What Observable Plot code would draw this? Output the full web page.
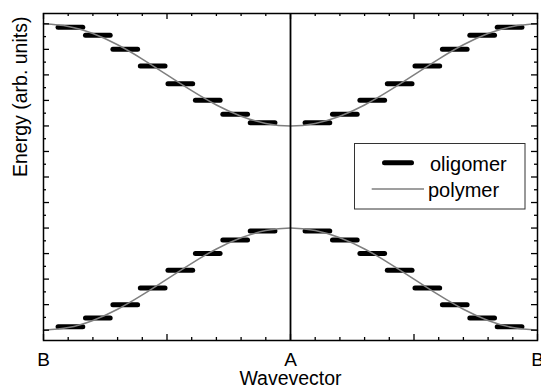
<!DOCTYPE html>
<html><head><meta charset="utf-8">
<script src="https://cdn.jsdelivr.net/npm/d3@7"></script>
<script src="https://cdn.jsdelivr.net/npm/@observablehq/plot@0.6"></script>
<style>body{margin:0;background:#fff}</style>
</head><body><div id="chart"></div>
<script>
// Oligomer levels (discrete k positions and energies)
const levelK = [-0.889,-0.778,-0.667,-0.556,-0.444,-0.333,-0.222,-0.111,0.111,0.222,0.333,0.444,0.556,0.667,0.778,0.889];
const oligomerUpper = [11.87,11.55,11.0,10.35,9.65,9.01,8.46,8.13,8.13,8.46,9.01,9.65,10.35,11.0,11.55,11.87];
const oligomerLower = [0.13,0.48,1.0,1.65,2.35,3.0,3.53,3.88,3.88,3.53,3.0,2.35,1.65,1.0,0.48,0.13];
// Polymer bands
const polymerK = [-1,-0.9,-0.8,-0.7,-0.6,-0.5,-0.4,-0.3,-0.2,-0.1,0,0.1,0.2,0.3,0.4,0.5,0.6,0.7,0.8,0.9,1];
const polymerUpper = [12,11.9,11.62,11.18,10.62,10.0,9.38,8.82,8.38,8.1,8.0,8.1,8.38,8.82,9.38,10.0,10.62,11.18,11.62,11.9,12];
const polymerLower = [0,0.1,0.38,0.82,1.38,2.0,2.62,3.18,3.62,3.9,4.0,3.9,3.62,3.18,2.62,2.0,1.38,0.82,0.38,0.1,0];
// Ticks
const xTickValues = [-1,0,1];
const xTickLabels = ["B","A","B"];
const xMajorTicks = [-1,-0.5,0,0.5,1];
const xMinorTicks = [-0.9,-0.8,-0.7,-0.6,-0.4,-0.3,-0.2,-0.1,0.1,0.2,0.3,0.4,0.6,0.7,0.8,0.9];
const yMajorTicks = [0,1,2,3,4,5,6,7,8,9,10,11,12];
const yMinorTicks = [0.5,1.5,2.5,3.5,4.5,5.5,6.5,7.5,8.5,9.5,10.5,11.5];
const seriesNames = ["oligomer","polymer"];
const xTitle = "Wavevector";
const yTitle = "Energy (arb. units)";

const W = 541, HT = 386, mt = 13, mb = 46, ml = 43, mr = 4;
const FH = HT - mt - mb, FW = W - ml - mr;
const font = "'Liberation Sans', Arial, Helvetica, sans-serif";
const fs = 19;
const fsTitle = 19.5;
const fsLegend = 20;
const halfW = 0.05;

const olig = levelK.flatMap((k, i) => [
  {k, e: oligomerUpper[i]}, {k, e: oligomerLower[i]}
]);
const poly = polymerK.flatMap((k, i) => [
  {k, e: polymerUpper[i], band: "upper"}, {k, e: polymerLower[i], band: "lower"}
]);

const tickStyle = {stroke: "black", strokeWidth: 1.3};
const svg = Plot.plot({
  width: W, height: HT,
  marginTop: mt, marginBottom: mb, marginLeft: ml, marginRight: mr,
  style: {fontFamily: font, fontSize: fs + "px", background: "#fff", color: "black"},
  x: {domain: [-1, 1]},
  y: {domain: [-0.405, 12.405], axis: null},
  marks: [
    Plot.ruleY(olig, {y: "e", x1: d => d.k - halfW, x2: d => d.k + halfW, stroke: "black", strokeWidth: 5, strokeLinecap: "round"}),
    Plot.line(poly, {x: "k", y: "e", z: "band", stroke: "#7f7f7f", strokeWidth: 1.5, curve: "natural"}),
    Plot.ruleX([0], {stroke: "black", strokeWidth: 1.8}),
    // inward ticks, four sides
    Plot.ruleX(xMajorTicks, {...tickStyle, insetTop: FH - 6}),
    Plot.ruleX(xMinorTicks, {...tickStyle, insetTop: FH - 3}),
    Plot.ruleX(xMajorTicks, {...tickStyle, insetBottom: FH - 6}),
    Plot.ruleX(xMinorTicks, {...tickStyle, insetBottom: FH - 3}),
    Plot.ruleY(yMajorTicks, {...tickStyle, insetRight: FW - 6}),
    Plot.ruleY(yMinorTicks, {...tickStyle, insetRight: FW - 3}),
    Plot.ruleY(yMajorTicks, {...tickStyle, insetLeft: FW - 6}),
    Plot.ruleY(yMinorTicks, {...tickStyle, insetLeft: FW - 3}),
    Plot.frame({stroke: "black", strokeWidth: 1.5}),
    Plot.axisX(xTickValues, {anchor: "bottom", tickSize: 0, tickPadding: 11.5, fontSize: fs, label: null,
      tickFormat: d => xTickLabels[xTickValues.indexOf(d)]}),
    Plot.text([xTitle], {frameAnchor: "bottom", dy: 44, lineAnchor: "bottom", fontSize: fsTitle, fill: "black"}),
    Plot.text([yTitle], {frameAnchor: "left", dx: -16.5, rotate: -90, lineAnchor: "bottom", fontSize: fsTitle, fill: "black"})
  ]
});

// Legend inside plot area
const g = d3.select(svg).append("g").attr("text-anchor", "start");
g.append("rect").attr("x", 354.5).attr("y", 143.5).attr("width", 170.5).attr("height", 65.5)
  .attr("fill", "white").attr("stroke", "#333").attr("stroke-width", 1);
g.append("line").attr("x1", 384.5).attr("x2", 411.5).attr("y1", 162.7).attr("y2", 162.7)
  .attr("stroke", "black").attr("stroke-width", 5).attr("stroke-linecap", "round");
g.append("line").attr("x1", 371.7).attr("x2", 424).attr("y1", 189).attr("y2", 189)
  .attr("stroke", "#7f7f7f").attr("stroke-width", 1.5);
g.append("text").attr("x", 430).attr("y", 170.5).text(seriesNames[0])
  .attr("font-family", font).attr("font-size", fsLegend).attr("fill", "black").attr("text-anchor", "start");
g.append("text").attr("x", 428).attr("y", 196.5).text(seriesNames[1])
  .attr("font-family", font).attr("font-size", fsLegend).attr("fill", "black").attr("text-anchor", "start");

document.getElementById("chart").appendChild(svg);
</script>
</body></html>
